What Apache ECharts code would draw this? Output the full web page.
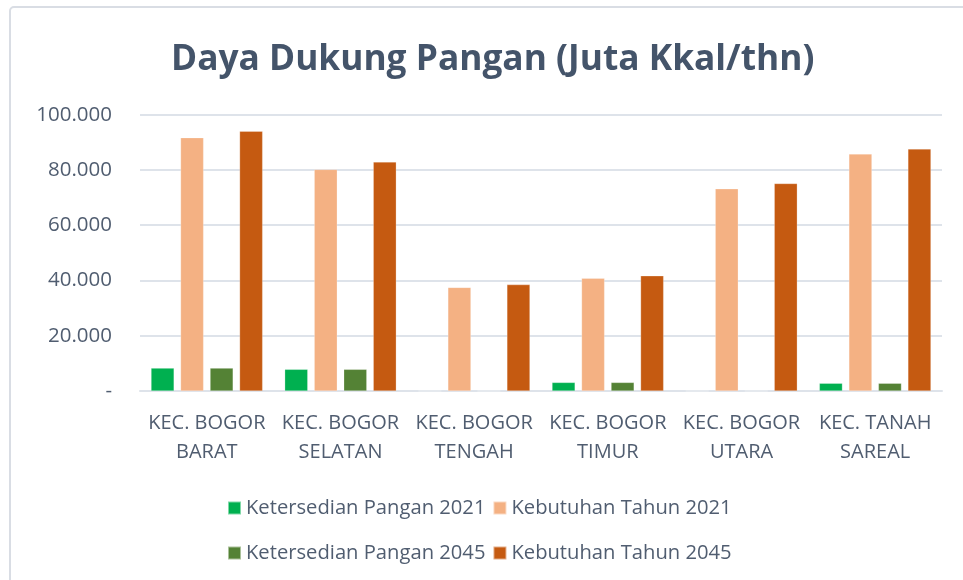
<!DOCTYPE html>
<html><head><meta charset="utf-8">
<script src="https://cdn.jsdelivr.net/npm/echarts@6/dist/echarts.min.js"></script>
<style>html,body{margin:0;padding:0;background:#fff}#c{width:963px;height:580px}</style>
</head><body><div id="c"></div>
<script>
const titleText = 'Daya Dukung Pangan (Juta Kkal/thn)';
const categories = ['KEC. BOGOR\nBARAT','KEC. BOGOR\nSELATAN','KEC. BOGOR\nTENGAH','KEC. BOGOR\nTIMUR','KEC. BOGOR\nUTARA','KEC. TANAH\nSAREAL'];
const seriesNames = ['Ketersedian Pangan 2021','Kebutuhan Tahun 2021','Ketersedian Pangan 2045','Kebutuhan Tahun 2045'];
const ketersedian2021 = [8300, 7850, 0, 3100, 0, 2800];
const kebutuhan2021 = [91700, 80200, 37500, 40800, 73200, 85800];
const ketersedian2045 = [8300, 7850, 0, 3100, 0, 2800];
const kebutuhan2045 = [94000, 82900, 38500, 41700, 75100, 87600];
const yTicks = [0, 20000, 40000, 60000, 80000, 100000];
const colors = ['#00B050','#F4B183','#548235','#C55A11'];

const values = [ketersedian2021, kebutuhan2021, ketersedian2045, kebutuhan2045];
const labelColor = '#505D70';
const chart = echarts.init(document.getElementById('c'), null, {renderer:'canvas'});
chart.setOption({
  animation:false,
  backgroundColor:'#fff',
  graphic:[{type:'rect', shape:{x:10,y:7,width:1000,height:620,r:4}, style:{fill:'none',stroke:'#D9DDE4',lineWidth:2}, silent:true}],
  title:{text:titleText,left:166,top:37,textStyle:{fontFamily:'Open Sans',fontWeight:'bold',fontSize:35.3,color:'#44546A'}},
  color:colors,
  legend:[
    {data:[seriesNames[0],seriesNames[1]],left:222,top:493,itemWidth:13,itemHeight:13,itemGap:7,icon:'rect',
     textStyle:{fontFamily:'Open Sans',fontSize:20.2,color:labelColor}},
    {data:[seriesNames[2],seriesNames[3]],left:222,top:538,itemWidth:13,itemHeight:13,itemGap:7,icon:'rect',
     textStyle:{fontFamily:'Open Sans',fontSize:20.2,color:labelColor}}
  ],
  grid:{left:140,right:21,top:114.7,bottom:189,containLabel:false},
  xAxis:{type:'category',data:categories,
    axisLine:{lineStyle:{color:'#DEE3EA',width:2}},axisTick:{show:false},
    axisLabel:{interval:0,margin:18,fontFamily:'Open Sans',fontSize:20,lineHeight:29,color:labelColor}},
  yAxis:{type:'value',min:yTicks[0],max:yTicks[yTicks.length-1],interval:20000,
    axisLine:{show:false},axisTick:{show:false},
    splitLine:{lineStyle:{color:'#DEE3EA',width:2}},
    axisLabel:{margin:28,fontFamily:'Open Sans',fontSize:20.5,color:labelColor,
      formatter:v=> v===0?'-':v.toLocaleString('de-DE')}},
  series:values.map((d,i)=>({name:seriesNames[i],type:'bar',data:d,barGap:'28%',barCategoryGap:'16.5%',
    itemStyle:{color:colors[i],borderColor:'rgba(255,255,255,0.5)',borderWidth:0.5}}))
});
</script></body></html>
